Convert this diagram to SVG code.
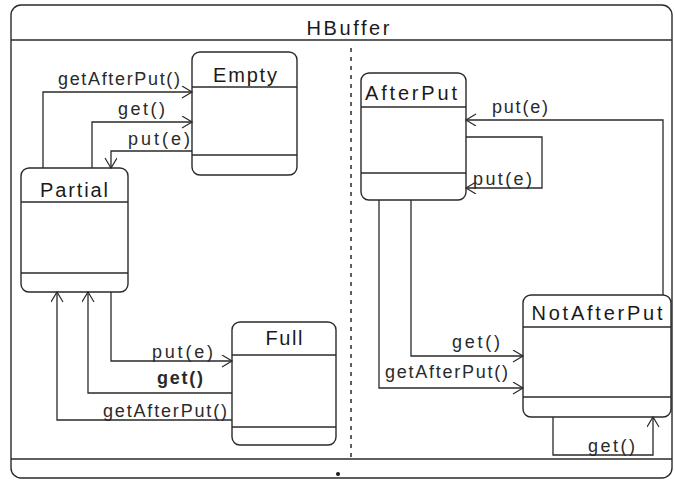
<svg xmlns="http://www.w3.org/2000/svg" width="675" height="483" viewBox="0 0 675 483">
<style>
.frame{fill:none;stroke:#2a2a2a;stroke-width:1.4}
.node rect{fill:#fff;stroke:#2a2a2a;stroke-width:1.4}
.node line{stroke:#2a2a2a;stroke-width:1.3}
.name{font-family:"Liberation Sans",Arial,sans-serif;font-size:20px;fill:#1a1a1a;text-anchor:middle}
.lbl{font-family:"Liberation Sans",Arial,sans-serif;font-size:18px;fill:#2a2a2a}
.conn path{fill:none;stroke:#2a2a2a;stroke-width:1.3;marker-end:url(#arr)}
</style>
<defs>
<marker id="arr" markerUnits="userSpaceOnUse" markerWidth="14" markerHeight="14" refX="11" refY="6" orient="auto">
<path d="M1,0 L11,6 L1,12" fill="none" stroke="#2a2a2a" stroke-width="1.2"/>
</marker>
</defs>
<rect width="675" height="483" fill="#fff"/>
<g id="HBuffer">
<rect class="frame" x="11" y="5" width="661" height="473" rx="10"/>
<line class="frame" x1="11" y1="40" x2="672" y2="40"/>
<line class="frame" x1="11" y1="459" x2="672" y2="459"/>
<line x1="351" y1="48" x2="351" y2="459" stroke="#2a2a2a" stroke-width="1.5" stroke-dasharray="4,5"/>
<text class="name" x="348" y="35" font-size="22" textLength="83" lengthAdjust="spacing">HBuffer</text>
<circle cx="338" cy="474" r="2" fill="#1a1a1a"/>
</g>
<g id="Empty" class="node">
<rect x="192" y="52" width="105" height="123" rx="8"/>
<line x1="192" y1="87" x2="297" y2="87"/>
<line x1="192" y1="155" x2="297" y2="155"/>
<text class="name" x="245" y="82" textLength="64" lengthAdjust="spacing">Empty</text>
</g>
<g id="Partial" class="node">
<rect x="21" y="168" width="107" height="124" rx="8"/>
<line x1="21" y1="202" x2="128" y2="202"/>
<line x1="21" y1="273" x2="128" y2="273"/>
<text class="name" x="74" y="197" textLength="68" lengthAdjust="spacing">Partial</text>
</g>
<g id="Full" class="node">
<rect x="232" y="322" width="104" height="123" rx="8"/>
<line x1="232" y1="355" x2="336" y2="355"/>
<line x1="232" y1="427" x2="336" y2="427"/>
<text class="name" x="284" y="345" textLength="37" lengthAdjust="spacing">Full</text>
</g>
<g id="AfterPut" class="node">
<rect x="361" y="73" width="105" height="127" rx="8"/>
<line x1="361" y1="107" x2="466" y2="107"/>
<line x1="361" y1="173" x2="466" y2="173"/>
<text class="name" x="411" y="100" textLength="92" lengthAdjust="spacing">AfterPut</text>
</g>
<g id="NotAfterPut" class="node">
<rect x="523" y="295" width="148" height="122" rx="8"/>
<line x1="523" y1="327" x2="671" y2="327"/>
<line x1="523" y1="397" x2="671" y2="397"/>
<text class="name" x="597" y="320" textLength="131" lengthAdjust="spacing">NotAfterPut</text>
</g>
<g id="connectors" class="conn">
<path d="M43,168 V92 H192"/>
<path d="M92,168 V122 H192"/>
<path d="M192,151 H111 V168"/>
<path d="M111,292 V361 H232"/>
<path d="M232,393 H88 V292"/>
<path d="M232,420 H57 V292"/>
<path d="M663,295 V120 H466"/>
<path d="M466,137 H542 V188 H466"/>
<path d="M411,200 V356 H523"/>
<path d="M379,200 V388 H523"/>
<path d="M553,417 V455 H653 V417"/>
</g>
<g id="labels">
<text class="lbl" x="58" y="85" textLength="122" lengthAdjust="spacing">getAfterPut()</text>
<text class="lbl" x="118" y="115" textLength="47" lengthAdjust="spacing">get()</text>
<text class="lbl" x="128" y="145" textLength="62" lengthAdjust="spacing">put(e)</text>
<text class="lbl" x="152" y="358" textLength="61" lengthAdjust="spacing">put(e)</text>
<text class="lbl" x="157" y="384" font-weight="bold" textLength="46" lengthAdjust="spacing">get()</text>
<text class="lbl" x="103" y="417" textLength="124" lengthAdjust="spacing">getAfterPut()</text>
<text class="lbl" x="492" y="113" textLength="56" lengthAdjust="spacing">put(e)</text>
<text class="lbl" x="473" y="185" textLength="59" lengthAdjust="spacing">put(e)</text>
<text class="lbl" x="452" y="348" textLength="48" lengthAdjust="spacing">get()</text>
<text class="lbl" x="385" y="378" textLength="123" lengthAdjust="spacing">getAfterPut()</text>
<text class="lbl" x="588" y="452" textLength="47" lengthAdjust="spacing">get()</text>
</g>
</svg>
